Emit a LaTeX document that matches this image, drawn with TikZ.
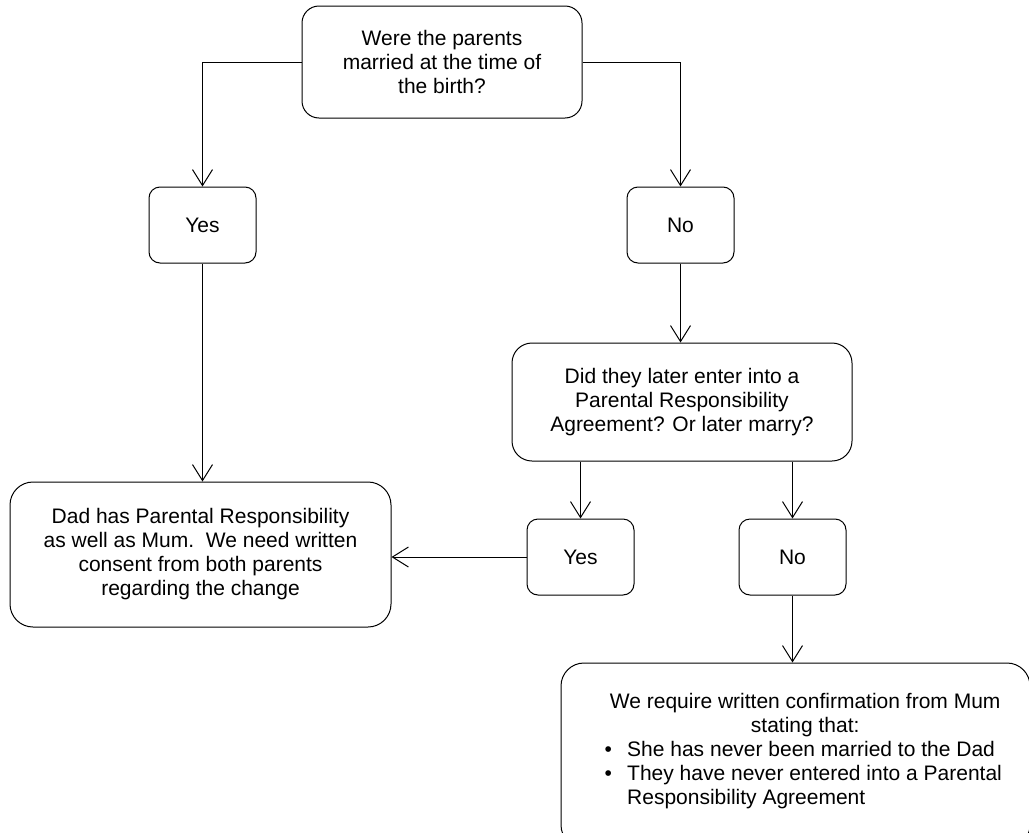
\documentclass[tikz,border=0pt]{standalone}
\usepackage{fontspec}
\setmainfont{Liberation Sans}
\usetikzlibrary{arrows.meta}
\begin{document}
\begin{tikzpicture}[x=1pt,y=-1pt,
  box/.style={draw, line width=1pt, align=center, inner sep=0pt, font=\fontsize{21}{24}\selectfont},
  small/.style={box, rounded corners=11pt, minimum width=107pt, minimum height=76pt},
  conn/.style={line width=1pt, -{Straight Barb[length=16pt,width=20pt,line width=1pt]}},
  txt/.style={inner sep=0pt, font=\fontsize{21}{24}\selectfont}]
\useasboundingbox (0,0) rectangle (1029,833);
\clip (0,0) rectangle (1029,833);
\node[box, rounded corners=17pt, minimum width=280pt, minimum height=112pt] (top) at (442,62) {Were the parents\\married at the time of\\the birth?};
\node[small] (yes1) at (202.5,225) {Yes};
\node[small] (no1) at (680.5,225) {No};
\node[box, rounded corners=20pt, minimum width=340pt, minimum height=118pt] (did) at (682,402) {Did they later enter into a\\Parental Responsibility\\Agreement? Or later marry?};
\node[box, rounded corners=23pt, minimum width=381pt, minimum height=145pt] (dad) at (200.5,554.5) {Dad has Parental Responsibility\\as well as Mum.\ \ We need written\\consent from both parents\\regarding the change};
\node[small] (yes2) at (580.5,557) {Yes};
\node[small] (no2) at (792.5,557) {No};
\node[box, rounded corners=23pt, minimum width=469pt, minimum height=185pt] (bottom) at (795.5,755.5) {};
\node[txt, anchor=north west] (bottomtext) at (600,693) {\begin{minipage}[t]{410pt}\fontsize{21}{24}\selectfont
\centering We require written confirmation from Mum\\stating that:\par
\raggedright
\hangindent=27pt\hangafter=1\noindent\hspace*{4pt}\makebox[8pt][c]{\textbullet}\hspace*{15pt}She has never been married to the Dad\par
\hangindent=27pt\hangafter=1\noindent\hspace*{4pt}\makebox[8pt][c]{\textbullet}\hspace*{15pt}They have never entered into a Parental\hfil\break Responsibility Agreement\par
\end{minipage}};
\draw[conn] (top.west) -| (yes1.north);
\draw[conn] (top.east) -| (no1.north);
\draw[conn] (yes1.south) -- (yes1.south |- dad.north);
\draw[conn] (no1.south) -- (no1.south |- did.north);
\draw[conn] (yes2.north |- did.south) -- (yes2.north);
\draw[conn] (no2.north |- did.south) -- (no2.north);
\draw[conn] (yes2.west) -- (yes2.west -| dad.east);
\draw[conn] (no2.south) -- (no2.south |- bottom.north);
\end{tikzpicture}
\end{document}
